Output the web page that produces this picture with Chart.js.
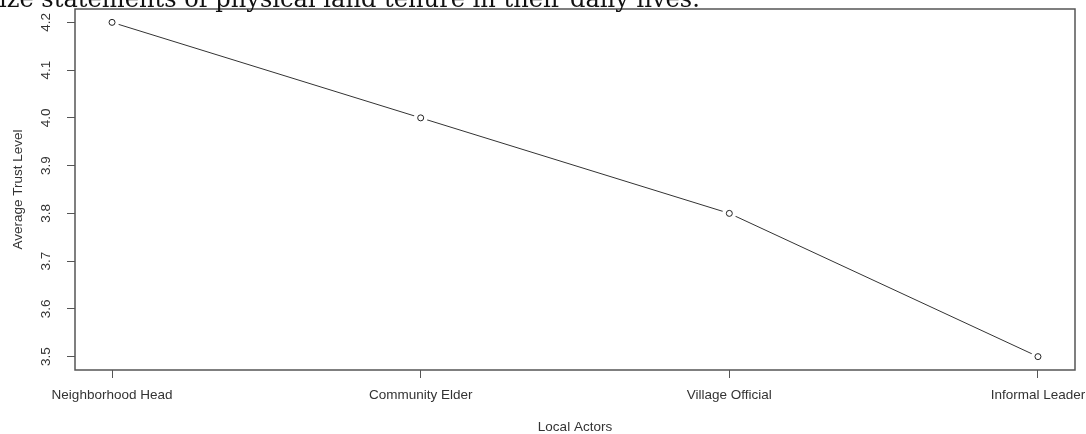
<!DOCTYPE html>
<html>
<head>
<meta charset="utf-8">
<script src="https://cdn.jsdelivr.net/npm/chart.js@4.4.1/dist/chart.umd.min.js"></script>
<style>
    html, body { margin: 0; padding: 0; background: #fff; }
    #wrap { position: relative; width: 1086px; height: 434px; overflow: hidden; }
    #wrap canvas { position: absolute; left: 0; top: 0; }
    #caption {
        position: absolute; left: -1px; top: -12px;
        font-family: "DejaVu Serif", serif; font-size: 21px; line-height: 1;
        color: #111; white-space: nowrap;
    }
</style>
</head>
<body>
<div id="wrap">
    <canvas id="chart" width="1086" height="434"></canvas>
    <div id="caption">ize statements of physical land tenure in their daily lives.</div>
</div>
<script>
// values
var actors = ['Neighborhood Head', 'Community Elder', 'Village Official', 'Informal Leader'];
var trustLevels = [4.2, 4.0, 3.8, 3.5];
var yTicks = [3.5, 3.6, 3.7, 3.8, 3.9, 4.0, 4.1, 4.2];
var xTicks = [1, 2, 3, 4];

(function () {
    'use strict';

    var INK = '#333';
    var FONT = '"Liberation Sans", Arial, sans-serif';
    var FONT_SIZE = 13.5;

    // fit the cut-off sentence above the plot to its width in the picture
    function fitCaption() {
        var el = document.getElementById('caption');
        var ctx = document.createElement('canvas').getContext('2d');
        ctx.font = '20px "DejaVu Serif"';
        var w = ctx.measureText(el.textContent).width;
        var size = 20 * 701 / w;
        el.style.fontSize = size.toFixed(2) + 'px';
        el.style.top = (7.5 - 0.846 * size).toFixed(1) + 'px';
    }

    var points = [];
    for (var i = 0; i < trustLevels.length; i++) {
        points.push({ x: i + 1, y: trustLevels[i] });
    }

    // R's box() round the plot region
    var boxPlugin = {
        id: 'plotBox',
        afterDraw: function (chart) {
            var a = chart.chartArea;
            var ctx = chart.ctx;
            ctx.save();
            ctx.strokeStyle = '#555';
            ctx.lineWidth = 1.5;
            ctx.strokeRect(a.left, a.top, a.right - a.left, a.bottom - a.top);
            ctx.restore();
        }
    };

    fitCaption();

    new Chart(document.getElementById('chart'), {
        type: 'line',
        data: {
            datasets: [{
                // open circles, drawn on top
                data: points,
                order: 0,
                showLine: false,
                pointRadius: 3,
                pointBackgroundColor: '#fff',
                pointBorderColor: '#222',
                pointBorderWidth: 1
            }, {
                // line with white discs so it breaks round each point (type = "b")
                data: points,
                order: 1,
                borderColor: INK,
                borderWidth: 1,
                pointRadius: 7,
                pointBackgroundColor: '#fff',
                pointBorderWidth: 0,
                pointBorderColor: '#fff',
                tension: 0
            }]
        },
        options: {
            responsive: false,
            animation: false,
            events: [],
            layout: { padding: { top: 9, right: 11, left: 0, bottom: 0 } },
            plugins: {
                legend: { display: false },
                tooltip: { enabled: false }
            },
            scales: {
                x: {
                    type: 'linear',
                    min: 0.88,
                    max: 4.12,
                    afterFit: function (scale) {
                        scale.height = 64;
                        scale.paddingLeft = 0;
                        scale.paddingRight = 0;
                    },
                    afterBuildTicks: function (scale) {
                        scale.ticks = xTicks.map(function (v) { return { value: v }; });
                    },
                    grid: {
                        drawOnChartArea: false,
                        drawTicks: true,
                        tickLength: 8,
                        tickColor: '#555'
                    },
                    border: { display: false },
                    ticks: {
                        autoSkip: false,
                        maxRotation: 0,
                        padding: 9,
                        color: INK,
                        font: { family: FONT, size: FONT_SIZE },
                        callback: function (v) { return actors[v - 1]; }
                    },
                    title: {
                        display: true,
                        text: 'Local Actors',
                        color: INK,
                        font: { family: FONT, size: FONT_SIZE, lineHeight: 1 },
                        padding: { top: 0, bottom: 0 }
                    }
                },
                y: {
                    min: 3.472,
                    max: 4.228,
                    afterFit: function (scale) {
                        scale.width = 75;
                        scale.paddingTop = 0;
                        scale.paddingBottom = 0;
                    },
                    afterBuildTicks: function (scale) {
                        scale.ticks = yTicks.map(function (v) { return { value: v }; });
                    },
                    grid: {
                        drawOnChartArea: false,
                        drawTicks: true,
                        tickLength: 8,
                        tickColor: '#555'
                    },
                    border: { display: false },
                    ticks: {
                        autoSkip: false,
                        minRotation: 90,
                        maxRotation: 90,
                        crossAlign: 'center',
                        padding: 11,
                        color: INK,
                        font: { family: FONT, size: FONT_SIZE },
                        callback: function (v) { return v.toFixed(1); }
                    },
                    title: {
                        display: true,
                        text: 'Average Trust Level',
                        color: INK,
                        font: { family: FONT, size: FONT_SIZE },
                        padding: { top: 10, bottom: 0 }
                    }
                }
            }
        },
        plugins: [boxPlugin]
    });
})();
</script>
</body>
</html>
